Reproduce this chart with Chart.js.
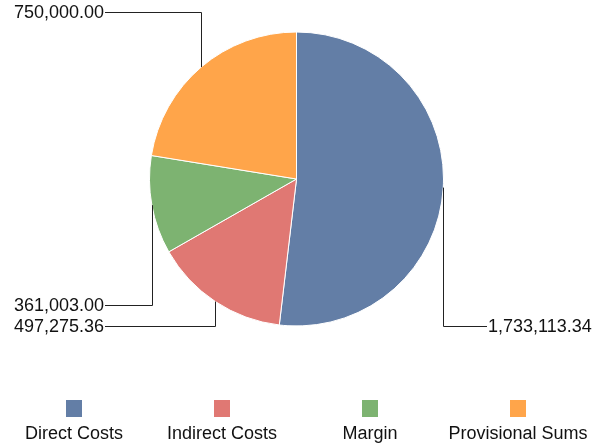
<!DOCTYPE html>
<html>
<head>
<meta charset="utf-8">
<script src="https://cdn.jsdelivr.net/npm/chart.js@4/dist/chart.umd.min.js"></script>
<style>
  html, body { margin: 0; padding: 0; background: #ffffff; }
  #wrap { width: 611px; height: 446px; }
</style>
</head>
<body>
<div id="wrap"><canvas id="c" width="611" height="446"></canvas></div>
<script>
const categories = ["Direct Costs", "Indirect Costs", "Margin", "Provisional Sums"];
const values = [1733113.34, 497275.36, 361003.00, 750000.00];
const colors = ["#637ea6", "#e07873", "#7db371", "#ffa54a"];

const FONT = '"Liberation Sans", Arial, sans-serif';

function fmt(v) {
  return v.toLocaleString('en-US', { minimumFractionDigits: 2, maximumFractionDigits: 2 });
}

const leaderLabels = {
  id: 'leaderLabels',
  afterDatasetsDraw(chart) {
    const ctx = chart.ctx;
    const area = chart.chartArea;
    const meta = chart.getDatasetMeta(0);
    const ds = chart.data.datasets[0];
    const items = meta.data.map((arc, i) => {
      const p = arc.getProps(['x', 'y', 'startAngle', 'endAngle', 'outerRadius'], true);
      const mid = (p.startAngle + p.endAngle) / 2;
      return {
        i,
        px: p.x + Math.cos(mid) * p.outerRadius,
        py: p.y + Math.sin(mid) * p.outerRadius,
        right: Math.cos(mid) >= 0,
        top: Math.sin(mid) < 0
      };
    });
    ['L', 'R'].forEach(side => {
      const bottom = items.filter(it => (it.right ? 'R' : 'L') === side && !it.top)
        .sort((a, b) => b.py - a.py);
      bottom.forEach((it, k) => { it.ly = area.bottom - 1 - k * 21; });
      const top = items.filter(it => (it.right ? 'R' : 'L') === side && it.top)
        .sort((a, b) => a.py - b.py);
      top.forEach((it, k) => { it.ly = area.top - 19 + k * 21; });
    });
    ctx.save();
    ctx.strokeStyle = '#222222';
    ctx.lineWidth = 1;
    ctx.fillStyle = '#111111';
    ctx.font = '18px ' + FONT;
    ctx.textBaseline = 'middle';
    items.forEach(it => {
      const x = Math.round(it.px) + 0.5;
      const ly = Math.round(it.ly) + 0.5;
      const tx = it.right ? area.right + 44 : area.left - 45;
      ctx.beginPath();
      ctx.moveTo(x, it.py);
      ctx.lineTo(x, ly);
      ctx.lineTo(it.right ? tx - 1 : tx + 1, ly);
      ctx.stroke();
      ctx.textAlign = it.right ? 'left' : 'right';
      ctx.fillText(fmt(ds.data[it.i]), tx, ly + 1);
    });
    ctx.restore();
  }
};

const bottomLegend = {
  id: 'bottomLegend',
  afterDraw(chart) {
    const ctx = chart.ctx;
    const ds = chart.data.datasets[0];
    const colW = 148;
    ctx.save();
    ctx.font = '18px ' + FONT;
    ctx.textAlign = 'center';
    ctx.textBaseline = 'alphabetic';
    chart.data.labels.forEach((lab, i) => {
      const cx = colW / 2 + i * colW;
      ctx.fillStyle = ds.backgroundColor[i];
      ctx.fillRect(cx - 8, 400, 16, 17);
      ctx.fillStyle = '#111111';
      ctx.fillText(lab, cx, 439);
    });
    ctx.restore();
  }
};

new Chart(document.getElementById('c'), {
  type: 'pie',
  data: {
    labels: categories,
    datasets: [{
      data: values,
      backgroundColor: colors,
      borderColor: '#ffffff',
      borderWidth: 1
    }]
  },
  options: {
    responsive: false,
    animation: false,
    layout: { padding: { left: 149, right: 167, top: 31, bottom: 119 } },
    plugins: {
      legend: { display: false },
      tooltip: { enabled: false }
    }
  },
  plugins: [leaderLabels, bottomLegend]
});
</script>
</body>
</html>
